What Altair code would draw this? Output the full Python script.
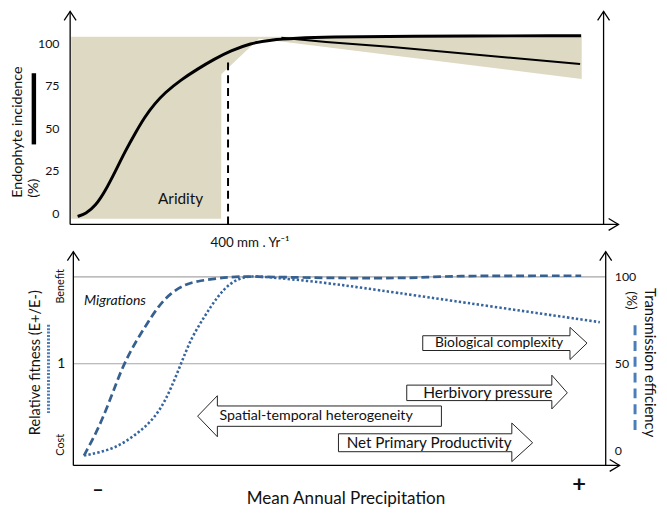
import altair as alt
import pandas as pd

# ---------------- data ----------------
# x: position along the precipitation gradient (0 = dry end, 100 = wet end)
# top panel: endophyte incidence (%)
inc_x = [1.2, 2.7, 4.6, 6.4, 8.3, 10.1, 12.0, 13.8, 15.7, 17.5, 20.6, 23.7, 26.8, 29.9, 33.6, 37.3,
         42.2, 48.3, 60.7, 95.6]
inc_hi = [-1.7, -0.2, 4.7, 13.4, 25.0, 36.6, 47.3, 57.0, 64.8, 71.0, 78.8, 85.1, 90.9, 95.8, 100.2,
          102.2, 103.2, 103.9, 104.4, 104.7]
inc_lo_x = [39.4, 47.8, 60.2, 95.4]
inc_lo = [103.5, 101.0, 98.1, 88.0]
band_x = [0.0, 28.1, 28.15, 35.2, 95.7]
band_lo = [-3.1, -3.1, 82.0, 102.9, 79.2]
band_hi = [104.1, 104.1, 104.1, 104.1, 104.1]
threshold_x = 29.4
top_ticks = [0, 25, 50, 75, 100]

# bottom panel: transmission efficiency (%) and relative fitness
trans_x = [2.4, 5.2, 7.6, 9.4, 11.3, 13.9, 16.3, 18.7, 21.3, 23.7, 29.8, 33.0, 47.8, 65.7, 69.4, 95.6]
trans_y = [-2.8, 13.1, 31.8, 46.5, 58.5, 71.6, 83.0, 90.9, 95.5, 97.7, 100.0, 100.3, 99.2, 99.2,
           100.6, 100.6]
fit_x = [2.4, 5.2, 8.3, 11.3, 14.4, 16.9, 18.7, 20.6, 22.4, 25.0, 27.4, 29.8, 32.4, 34.8, 47.8, 57.0,
         72.4, 99.1]
fit_y = [-2.8, -1.1, 1.7, 7.4, 14.8, 24.4, 35.8, 50.0, 64.2, 77.3, 88.6, 96.6, 100.0, 100.6, 96.6,
         92.6, 85.8, 73.9]
bottom_ticks = [0, 50, 100]
grid_lines = [50, 100]

# block arrows: label, body start x, head base x, tip x, body low, body high, head low, head high, label size
block_arrows = [
    ("Biological complexity", 65.9, 93.5, 96.7, 57.6, 66.1, 52.4, 70.9, 14.0),
    ("Herbivory pressure", 62.9, 90.1, 93.0, 28.8, 37.7, 24.0, 43.4, 15.7),
    ("Spatial-temporal heterogeneity", 69.4, 27.4, 23.7, 14.0, 25.7, 8.0, 31.6, 14.4),
    ("Net Primary Productivity", 50.1, 82.6, 86.5, -0.6, 9.7, -6.3, 15.9, 15.4),
]
arrow_label_x = [80.2, 78.1, 45.9, 67.1]

FONT = "Lato"
W, H = 659, 504
XS = alt.Scale(domain=[-11.85, 110.19], nice=False, zero=False)
YT = alt.Scale(domain=[-173.84, 119.19], nice=False, zero=False)
YB = alt.Scale(domain=[-33.52, 252.84], nice=False, zero=False)


def X(f="x"):
    return alt.X(f, type="quantitative", scale=XS, axis=None)


def Y(scale, f="y"):
    return alt.Y(f, type="quantitative", scale=scale, axis=None, stack=None)


def texts(rows, scale, **kw):
    df = pd.DataFrame(rows, columns=["x", "y", "t"])
    base = dict(font=FONT, color="#111111", baseline="middle")
    base.update(kw)
    return alt.Chart(df).mark_text(**base).encode(x=X(), y=Y(scale), text="t:N")


def vrule(x, y1, y2, scale, **kw):
    df = pd.DataFrame({"x": [x], "y": [y1], "y2": [y2]})
    return alt.Chart(df).mark_rule(**kw).encode(x=X(), y=Y(scale), y2="y2:Q")


def hrule(y, x1, x2, scale, **kw):
    df = pd.DataFrame({"x": [x1], "x2": [x2], "y": [y]})
    return alt.Chart(df).mark_rule(**kw).encode(x=X(), x2="x2:Q", y=Y(scale))


def head(x, y, scale, shape, size):
    df = pd.DataFrame({"x": [x], "y": [y]})
    return alt.Chart(df).mark_point(shape=shape, size=size, filled=False, color="black",
                                    strokeWidth=1.3, opacity=1).encode(x=X(), y=Y(scale))


UP = "M-0.67,1L0,0L0.67,1"
RIGHT = "M-1,-0.6L0,0L-1,0.6"

layers = []

# ---------- top panel ----------
band = pd.DataFrame({"x": band_x, "y": band_lo, "y2": band_hi})
layers.append(alt.Chart(band).mark_area(color="#DDD9C3", opacity=1).encode(x=X(), y=Y(YT), y2="y2:Q"))
layers.append(vrule(threshold_x, -6.4, 90.7, YT, color="black", strokeWidth=2, strokeDash=[8, 5]))
hi = pd.DataFrame({"x": inc_x, "y": inc_hi})
layers.append(alt.Chart(hi).mark_line(color="black", strokeWidth=3, interpolate="basis").encode(x=X(), y=Y(YT)))
lo = pd.DataFrame({"x": inc_lo_x, "y": inc_lo})
layers.append(alt.Chart(lo).mark_line(color="black", strokeWidth=2).encode(x=X(), y=Y(YT)))
# axes
layers.append(vrule(-0.2, -6.4, 119.0, YT, color="black", strokeWidth=1.3))
layers.append(vrule(99.8, -6.4, 119.0, YT, color="black", strokeWidth=1.3))
layers.append(hrule(-6.4, -0.2, 102.6, YT, color="black", strokeWidth=1.3))
layers.append(head(-0.2, 119.0, YT, UP, 324))
layers.append(head(99.8, 119.0, YT, UP, 324))
layers.append(head(102.6, -6.4, YT, RIGHT, 400))
layers.append(texts([(-2.2, v, str(v)) for v in top_ticks], YT, align="right", fontSize=12.5))
layers.append(texts([(-9.9, 9.3, "Endophyte incidence"), (-7.0, 9.3, "(%)")], YT,
                    align="left", angle=270, fontSize=14.5))
layers.append(vrule(-7.0, 40.7, 82.6, YT, color="black", strokeWidth=4.5))
layers.append(texts([(20.5, 8.7, "Aridity")], YT, align="center", fontSize=15.5))
layers.append(texts([(33.5, -17.4, "400 mm . Yr⁻¹")], YT, align="center", fontSize=13.5))

# ---------- bottom panel ----------
for g in grid_lines:
    layers.append(hrule(g, 0.4, 100.2, YB, color="#A6A6A6", strokeWidth=1.2))
tr = pd.DataFrame({"x": trans_x, "y": trans_y})
layers.append(alt.Chart(tr).mark_line(color="#36608F", strokeWidth=2.75, strokeDash=[8, 4],
                                      interpolate="basis").encode(x=X(), y=Y(YB)))
ft = pd.DataFrame({"x": fit_x, "y": fit_y})
layers.append(alt.Chart(ft).mark_line(color="#36649E", strokeWidth=2.6, strokeDash=[2.4, 2.2],
                                      interpolate="basis").encode(x=X(), y=Y(YB)))
layers.append(vrule(0.4, -8.5, 114.4, YB, color="black", strokeWidth=1.3))
layers.append(vrule(100.2, -8.5, 114.4, YB, color="black", strokeWidth=1.3))
layers.append(hrule(-8.5, 0.4, 102.8, YB, color="black", strokeWidth=1.3))
layers.append(head(0.4, 114.4, YB, UP, 324))
layers.append(head(100.2, 114.4, YB, UP, 324))
layers.append(head(102.8, -8.5, YB, RIGHT, 400))

# block arrows outlines
rows = []
for name, b0, hb, tip, lo_, hi_, hlo, hhi, _ in block_arrows:
    mid = (lo_ + hi_) / 2
    pts = [(b0, hi_), (hb, hi_), (hb, hhi), (tip, mid), (hb, hlo), (hb, lo_), (b0, lo_), (b0, hi_)]
    for i, (px, py) in enumerate(pts):
        rows.append({"name": name, "i": i, "x": px, "y": py})
arr = pd.DataFrame(rows)
layers.append(alt.Chart(arr).mark_line(color="#222222", strokeWidth=1).encode(
    x=X(), y=Y(YB), order="i:Q", detail="name:N"))
for (name, b0, hb, tip, lo_, hi_, hlo, hhi, fs), lx in zip(block_arrows, arrow_label_x):
    layers.append(texts([(lx, (lo_ + hi_) / 2, name)], YB, align="center", fontSize=fs))

layers.append(texts([(101.9, v, str(v)) for v in bottom_ticks], YB, align="left", fontSize=12.5))
layers.append(texts([(-1.85, 50, "1")], YB, align="center", fontSize=14))
layers.append(texts([(-1.85, 94.5, "Benefit"), (-1.85, 3.4, "Cost")], YB, align="center",
                    angle=270, fontSize=11))
layers.append(texts([(-6.67, 50.6, "Relative fitness (E+/E-)")], YB, align="center", angle=270, fontSize=14.7))
layers.append(vrule(-4.26, 21.6, 72.7, YB, color="#4A7EBB", strokeWidth=3, strokeDash=[2, 1.5]))
layers.append(texts([(105.0, 86.4, "(%)")], YB, align="center", angle=90, fontSize=14))
layers.append(texts([(108.5, 50.6, "Transmission efficiency")], YB, align="center", angle=90, fontSize=15))
layers.append(vrule(105.7, 11.9, 73.9, YB, color="#4A7EBB", strokeWidth=3, strokeDash=[10, 6]))
layers.append(texts([(2.4, 85.8, "Migrations")], YB, align="left", fontSize=14.2, fontStyle="italic"))
layers.append(texts([(5.0, -22.7, "–")], YB, align="center", fontSize=20, fontWeight="bold"))
layers.append(texts([(95.2, -19.9, "+")], YB, align="center", fontSize=24, fontWeight="bold"))
layers.append(texts([(51.5, -27.8, "Mean Annual Precipitation")], YB, align="center", fontSize=17.3))

chart = alt.layer(*layers).resolve_scale(y="independent").properties(
    width=W, height=H, padding=0, autosize=alt.AutoSizeParams(type="none")
).configure_view(stroke=None)

chart.save("out.html", embed_options={"renderer": "svg", "actions": False})
